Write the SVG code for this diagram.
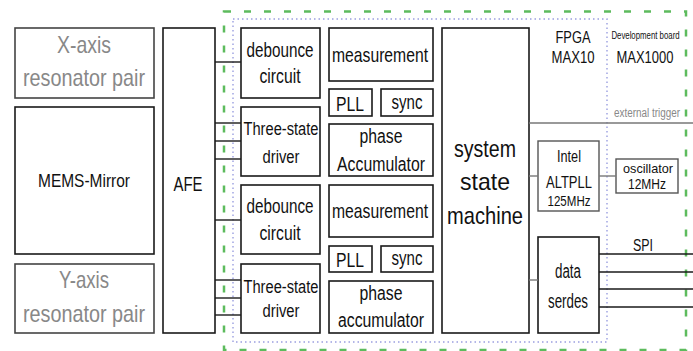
<svg xmlns="http://www.w3.org/2000/svg" width="693" height="351" viewBox="0 0 693 351">
<style>
.b{fill:#fff;stroke:#1a1a1a;stroke-width:1.6}
.g{fill:#fff;stroke:#555;stroke-width:1.4}
.lg{fill:#fff;stroke:#444;stroke-width:1.6}
text{font-family:"Liberation Sans",Arial,sans-serif;fill:#111;text-anchor:middle}
.gt{fill:#888}
.c line{stroke:#1a1a1a;stroke-width:1.4}
.c .gl{stroke:#777;stroke-width:1.4}
</style>
<rect x="0" y="0" width="693" height="351" fill="#fff"/>
<rect id="board" x="224" y="11.5" width="462" height="338.5" fill="none" stroke="#5dbb5d" stroke-width="2.5" stroke-dasharray="7 13"/>
<rect id="fpga" x="233" y="19" width="374" height="323" fill="none" stroke="#9a9ee0" stroke-width="1.4" stroke-dasharray="1.5 3"/>
<g id="xaxis"><rect class="lg" x="15" y="28" width="139" height="70"/>
<text class="gt" x="84" y="53" font-size="24" textLength="54" lengthAdjust="spacingAndGlyphs">X-axis</text>
<text class="gt" x="84" y="86" font-size="24" textLength="122" lengthAdjust="spacingAndGlyphs">resonator pair</text></g>
<g id="mems"><rect class="b" x="15" y="107" width="139" height="147"/>
<text x="84" y="187" font-size="18.5" textLength="92" lengthAdjust="spacingAndGlyphs">MEMS-Mirror</text></g>
<g id="yaxis"><rect class="lg" x="15" y="264" width="139" height="69"/>
<text class="gt" x="84" y="288" font-size="24" textLength="50" lengthAdjust="spacingAndGlyphs">Y-axis</text>
<text class="gt" x="84" y="322" font-size="24" textLength="122" lengthAdjust="spacingAndGlyphs">resonator pair</text></g>
<g id="afe"><rect class="b" x="163" y="28" width="52" height="305"/>
<text x="188" y="191" font-size="20.5" textLength="29" lengthAdjust="spacingAndGlyphs">AFE</text></g>
<g id="deb1"><rect class="b" x="241" y="28" width="79" height="70"/>
<text x="280" y="57" font-size="21" textLength="67" lengthAdjust="spacingAndGlyphs">debounce</text>
<text x="280" y="83" font-size="21" textLength="41" lengthAdjust="spacingAndGlyphs">circuit</text></g>
<g id="tsd1"><rect class="b" x="241" y="107" width="79" height="69"/>
<text x="281" y="135" font-size="17.5" textLength="75" lengthAdjust="spacingAndGlyphs">Three-state</text>
<text x="281" y="163" font-size="17.5" textLength="37" lengthAdjust="spacingAndGlyphs">driver</text></g>
<g id="meas1"><rect class="b" x="329" y="28" width="104" height="53"/>
<text x="380" y="61.5" font-size="21" textLength="96" lengthAdjust="spacingAndGlyphs">measurement</text></g>
<g id="pll1"><rect class="b" x="329" y="89" width="43" height="27"/>
<text x="350" y="111" font-size="20.5" textLength="28" lengthAdjust="spacingAndGlyphs">PLL</text></g>
<g id="sync1"><rect class="b" x="381" y="89" width="52" height="27"/>
<text x="407" y="108.5" font-size="20.5" textLength="31" lengthAdjust="spacingAndGlyphs">sync</text></g>
<g id="pacc1"><rect class="b" x="329" y="124" width="104" height="52"/>
<text x="381" y="143" font-size="19.5" textLength="43" lengthAdjust="spacingAndGlyphs">phase</text>
<text x="381" y="171" font-size="19.5" textLength="88" lengthAdjust="spacingAndGlyphs">Accumulator</text></g>
<g id="deb2"><rect class="b" x="241" y="185" width="79" height="69"/>
<text x="280" y="213" font-size="21" textLength="67" lengthAdjust="spacingAndGlyphs">debounce</text>
<text x="280" y="240" font-size="21" textLength="41" lengthAdjust="spacingAndGlyphs">circuit</text></g>
<g id="tsd2"><rect class="b" x="241" y="264" width="79" height="69"/>
<text x="281" y="293" font-size="17.5" textLength="75" lengthAdjust="spacingAndGlyphs">Three-state</text>
<text x="281" y="317" font-size="17.5" textLength="37" lengthAdjust="spacingAndGlyphs">driver</text></g>
<g id="meas2"><rect class="b" x="329" y="185" width="104" height="52"/>
<text x="380" y="218" font-size="21" textLength="96" lengthAdjust="spacingAndGlyphs">measurement</text></g>
<g id="pll2"><rect class="b" x="329" y="246" width="43" height="26"/>
<text x="350" y="267" font-size="20.5" textLength="28" lengthAdjust="spacingAndGlyphs">PLL</text></g>
<g id="sync2"><rect class="b" x="381" y="246" width="52" height="26"/>
<text x="407" y="264.5" font-size="20.5" textLength="31" lengthAdjust="spacingAndGlyphs">sync</text></g>
<g id="pacc2"><rect class="b" x="329" y="281" width="104" height="52"/>
<text x="381" y="300" font-size="19.5" textLength="43" lengthAdjust="spacingAndGlyphs">phase</text>
<text x="381" y="327" font-size="19.5" textLength="86" lengthAdjust="spacingAndGlyphs">accumulator</text></g>
<g id="ssm"><rect class="b" x="442" y="28" width="87" height="305"/>
<text transform="translate(485,157) scale(0.816,1)" font-size="24">system</text>
<text transform="translate(485,189.5) scale(0.96,1)" font-size="24">state</text>
<text transform="translate(485,223.5) scale(0.838,1)" font-size="24">machine</text></g>
<g id="altpll"><rect class="g" x="538" y="141" width="61" height="70"/>
<text x="569" y="162" font-size="17" textLength="24" lengthAdjust="spacingAndGlyphs">Intel</text>
<text x="569" y="188" font-size="17" textLength="46" lengthAdjust="spacingAndGlyphs">ALTPLL</text>
<text x="569" y="206" font-size="14" textLength="43" lengthAdjust="spacingAndGlyphs">125MHz</text></g>
<g id="osc"><rect class="g" x="616" y="159" width="62" height="34"/>
<text x="648" y="173" font-size="13" textLength="50" lengthAdjust="spacingAndGlyphs">oscillator</text>
<text x="647" y="189" font-size="14" textLength="38" lengthAdjust="spacingAndGlyphs">12MHz</text></g>
<g id="serdes"><rect class="b" x="538" y="237" width="61" height="96"/>
<text x="568" y="278" font-size="20" textLength="26" lengthAdjust="spacingAndGlyphs">data</text>
<text x="568" y="308" font-size="20" textLength="40" lengthAdjust="spacingAndGlyphs">serdes</text></g>
<g id="labels">
<text x="573" y="43" font-size="17" textLength="35" lengthAdjust="spacingAndGlyphs">FPGA</text>
<text x="573" y="63" font-size="17" textLength="43" lengthAdjust="spacingAndGlyphs">MAX10</text>
<text transform="translate(645.5,39) scale(0.68,1)" x="0" y="0" font-size="11.5">Development board</text>
<text x="645" y="63" font-size="17" textLength="57" lengthAdjust="spacingAndGlyphs">MAX1000</text>
<text class="gt" x="647" y="117" font-size="12" textLength="66" lengthAdjust="spacingAndGlyphs">external trigger</text>
<text x="643" y="251" font-size="16" textLength="20" lengthAdjust="spacingAndGlyphs">SPI</text>
</g>
<g class="c" id="connectors">
<line x1="215" y1="62" x2="241" y2="62"/>
<line x1="215" y1="123" x2="241" y2="123"/>
<line x1="215" y1="141" x2="241" y2="141"/>
<line x1="215" y1="159" x2="241" y2="159"/>
<line x1="215" y1="220" x2="241" y2="220"/>
<line x1="215" y1="280" x2="241" y2="280"/>
<line x1="215" y1="298" x2="241" y2="298"/>
<line x1="215" y1="315" x2="241" y2="315"/>
<line class="gl" x1="529" y1="123" x2="693" y2="123"/>
<line class="gl" x1="529" y1="176" x2="538" y2="176"/>
<line class="gl" x1="599" y1="176" x2="616" y2="176"/>
<line class="gl" x1="529" y1="280" x2="538" y2="280"/>
<line x1="599" y1="254" x2="693" y2="254"/>
<line x1="599" y1="272" x2="693" y2="272"/>
<line x1="599" y1="289" x2="693" y2="289"/>
<line x1="599" y1="307" x2="693" y2="307"/>
</g>
</svg>
